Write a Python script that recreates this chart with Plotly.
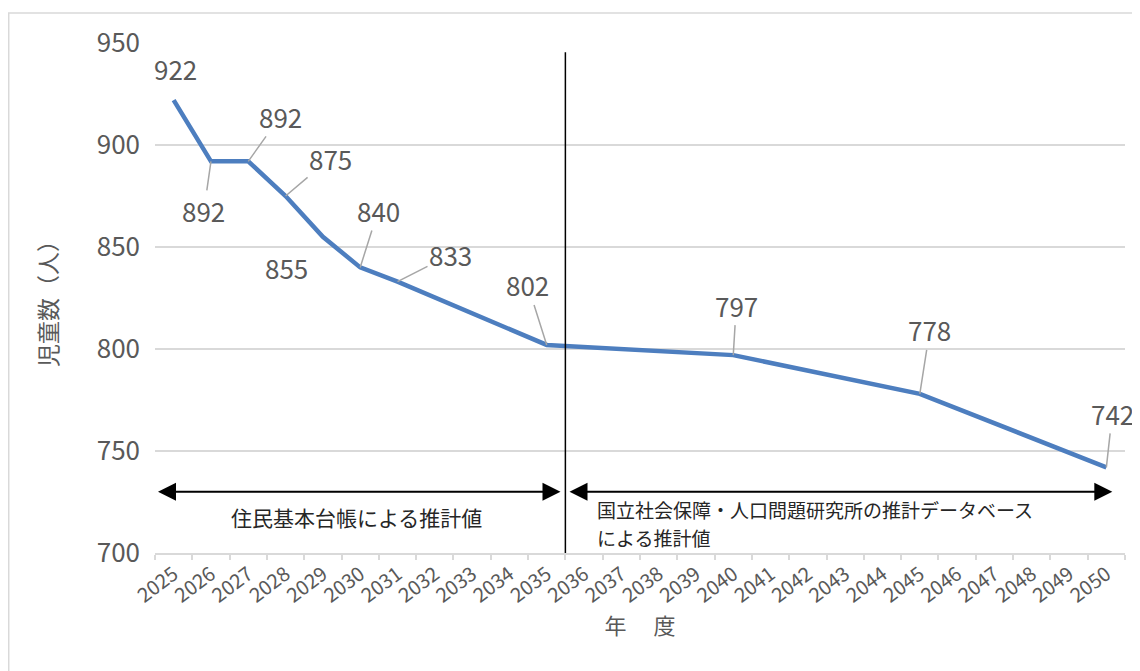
# Children count projection, 2025-2050
import plotly.graph_objects as go

# Data
years = [2025, 2026, 2027, 2028, 2029, 2030, 2031, 2035, 2040, 2045, 2050]
children = [922, 892, 892, 875, 855, 840, 833, 802, 797, 778, 742]
tick_years = list(range(2025, 2051))

label_left = '住民基本台帳による推計値'
label_right_1 = '国立社会保障・人口問題研究所の推計データベース'
label_right_2 = 'による推計値'

FONT = 'Noto Sans CJK JP'
GRAY = '#595959'

# Label offsets in pixels (dx, dy, leader line?)
label_offsets = [(2, -32, False), (-7, 49, True), (32, -45, True), (45, -38, True),
                 (-36, 31, False), (18, -57, True), (53, -27, True), (-19, -60, True),
                 (3, -50, True), (10, -64, True), (6, -54, True)]

fig = go.Figure(go.Scatter(x=years, y=children, mode='lines',
                           line=dict(color='#4d7ebf', width=4.5),
                           hoverinfo='x+y'))

annotations = []
for yr, v, (dx, dy, lead) in zip(years, children, label_offsets):
    if lead:
        annotations.append(dict(x=yr, y=v, text=str(v), showarrow=True, arrowhead=0,
                                arrowcolor='#a6a6a6', arrowwidth=1.5, ax=dx, ay=dy,
                                font=dict(family=FONT, size=26, color=GRAY)))
    else:
        annotations.append(dict(x=yr, y=v, text=str(v), showarrow=False,
                                xshift=dx, yshift=-dy,
                                font=dict(family=FONT, size=26, color=GRAY)))

# double-headed range arrows
annotations.append(dict(x=2024.58, y=730, ax=2035.41, ay=730, axref='x', ayref='y',
                        text='', showarrow=True, arrowside='end+start', arrowhead=2,
                        arrowsize=1.8, arrowwidth=2, arrowcolor='black'))
annotations.append(dict(x=2050.16, y=730, ax=2035.57, ay=730, axref='x', ayref='y',
                        text='', showarrow=True, arrowside='end+start', arrowhead=2,
                        arrowsize=1.8, arrowwidth=2, arrowcolor='black'))
annotations.append(dict(x=2029.89, y=717.6, text=label_left, showarrow=False,
                        font=dict(family=FONT, size=21, color='#262626')))
annotations.append(dict(x=2036.3, y=721.1, text=label_right_1, showarrow=False,
                        xanchor='left',
                        font=dict(family=FONT, size=19, color='#262626')))
annotations.append(dict(x=2036.3, y=707.4, text=label_right_2, showarrow=False,
                        xanchor='left',
                        font=dict(family=FONT, size=19, color='#262626')))

# page has an 8px body margin, so the figure is 8px smaller than the window
fig.update_layout(
    width=1132, height=663,
    margin=dict(l=147, r=15, t=35, b=118),
    paper_bgcolor='white', plot_bgcolor='white',
    showlegend=False,
    annotations=annotations,
    shapes=[
        dict(type='line', xref='x', yref='y', x0=2035.5, x1=2035.5, y0=700, y1=945.5,
             line=dict(color='black', width=1.5)),
        dict(type='rect', xref='paper', yref='paper', x0=-0.1508, x1=1.2, y0=-0.3, y1=1.0588,
             line=dict(color='#d9d9d9', width=1.5)),
    ],
    xaxis=dict(
        range=[2024.5, 2050.5], tickvals=tick_years, ticks='',
        tickangle=-37, tickfont=dict(family=FONT, size=20, color=GRAY),
        showgrid=False, zeroline=False,
        showline=True, linecolor='#d9d9d9', linewidth=1.5,
        minor=dict(tick0=2024.5, dtick=1, ticks='outside', ticklen=5,
                   tickcolor='#d9d9d9', tickwidth=1.5, showgrid=False),
        title=dict(text='年　 度', standoff=10,
                   font=dict(family=FONT, size=22, color=GRAY)),
    ),
    yaxis=dict(
        range=[700, 950], dtick=50, ticks='',
        tickfont=dict(family=FONT, size=26, color=GRAY),
        ticklabelstandoff=14,
        showgrid=True, gridcolor='#d9d9d9', gridwidth=1.5, zeroline=False,
        title=dict(text='児童数（人）', standoff=32,
                   font=dict(family=FONT, size=23, color=GRAY)),
    ),
)

fig.write_html('out.html')
